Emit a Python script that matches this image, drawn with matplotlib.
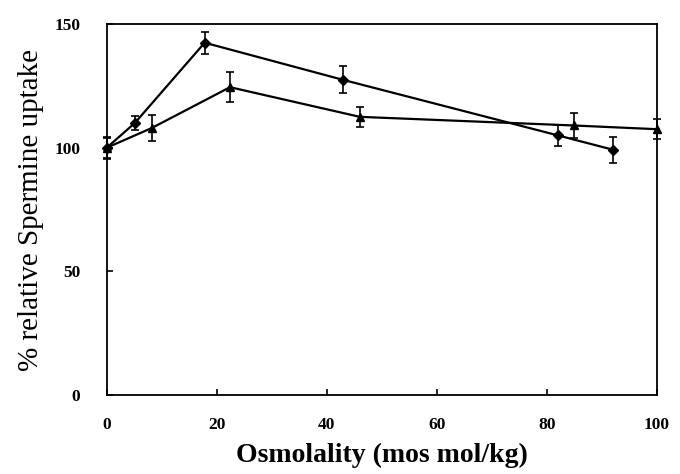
import matplotlib
matplotlib.use('Agg')
import matplotlib.pyplot as plt

# серия 1 (ромбы)
x1 = [0, 5.1, 17.8, 42.9, 82.0, 92.0]
y1 = [100, 110, 142.5, 127.5, 105.0, 99.2]
e1 = [4.5, 3.0, 4.5, 5.5, 4.2, 5.2]

# серия 2 (треугольники)
x2 = [0, 8.2, 22.4, 46.0, 84.9, 100]
y2 = [100, 108, 124.5, 112.5, 109.0, 107.5]
e2 = [4.0, 5.2, 6.0, 4.0, 5.2, 4.0]

xticks = [0, 20, 40, 60, 80, 100]
yticks = [0, 50, 100, 150]

plt.rcParams['font.family'] = ['Liberation Serif', 'DejaVu Serif']

fig = plt.figure(figsize=(6.8, 4.74), dpi=100)
ax = fig.add_axes([0.157, 0.167, 0.809, 0.782])

ax.errorbar(x1, y1, yerr=e1, color='black', lw=1.6, marker='D', ms=5,
            capsize=3, elinewidth=1.2, capthick=1.2, clip_on=False)
ax.errorbar(x2, y2, yerr=e2, color='black', lw=1.6, marker='^', ms=6,
            capsize=3, elinewidth=1.2, capthick=1.2, clip_on=False)

ax.set_xlim(0, 100)
ax.set_ylim(0, 150)
ax.set_xticks(xticks)
ax.set_yticks(yticks)
ax.tick_params(direction='in', length=4, width=1.2, labelsize=12.5)
for lab in ax.get_xticklabels() + ax.get_yticklabels():
    lab.set_fontweight('bold')
ax.tick_params(axis='y', pad=19)
ax.tick_params(axis='x', pad=16)

for s in ax.spines.values():
    s.set_linewidth(1.3)

ax.set_xlabel('Osmolality (mos mol/kg)', fontsize=20, fontweight='bold', labelpad=7)
ax.set_ylabel('% relative Spermine uptake', fontsize=21)
ax.yaxis.set_label_coords(-0.114, 0.5)

fig.savefig('out.png', dpi=100)
